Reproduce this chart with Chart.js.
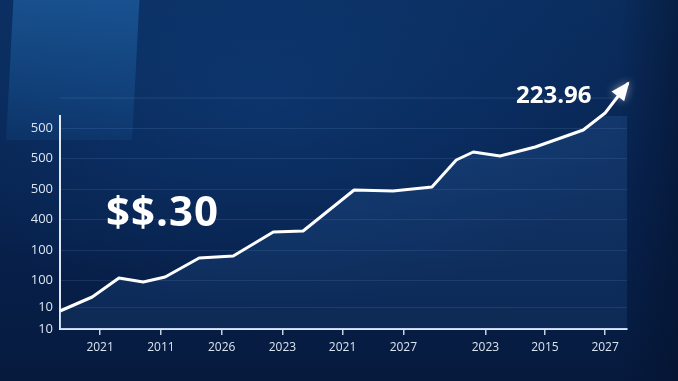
<!DOCTYPE html>
<html>
<head>
<meta charset="utf-8">
<script src="https://cdn.jsdelivr.net/npm/chart.js@4"></script>
<style>
  html, body { margin:0; padding:0; }
  body {
    width:678px; height:381px; overflow:hidden; position:relative;
    background:
      radial-gradient(ellipse 380px 220px at 260px 90px, rgba(18,70,135,0.45), rgba(18,70,135,0) 100%),
      linear-gradient(180deg, #0a2d5e 0%, #082452 45%, #061a3e 100%);
    font-family:"Open Sans", "Noto Sans", sans-serif;
  }
  .panel {
    position:absolute; left:10px; top:-10px; width:126px; height:150px;
    background:linear-gradient(180deg, rgba(35,110,180,0.55), rgba(25,90,160,0.18));
    transform:skewX(-3deg);
  }
  .shade {
    position:absolute; right:0; top:0; width:60px; height:381px;
    background:linear-gradient(90deg, rgba(4,16,40,0), rgba(4,16,40,0.5));
  }
  #wrap { position:absolute; left:0; top:0; width:678px; height:381px; }
  .big {
    position:absolute; left:106px; top:181px; color:#fff;
    font-weight:700; font-size:42px; letter-spacing:1px;
  }
  .val {
    position:absolute; left:516px; top:77px; color:#fff;
    font-weight:700; font-size:24px;
  }
</style>
</head>
<body>
<div class="panel"></div>
<div class="shade"></div>
<div id="wrap"><canvas id="chart" width="678" height="381"></canvas></div>
<div class="big">$$.30</div>
<div class="val">223.96</div>
<script>
/* ---------- data ---------- */
const X_VALUES = [0, 0.53, 0.97, 1.37, 1.73, 2.29, 2.85, 3.51, 4.0, 4.84, 5.48, 6.12, 6.52, 6.80, 7.24, 7.82, 8.61, 8.97, 9.35];
const Y_VALUES = [18, 32, 51, 47, 52, 71, 73, 97, 98, 139, 138, 142, 169, 177, 173, 182, 199, 216, 246];

const X_TICK_POS    = [0.66, 1.66, 2.66, 3.66, 4.65, 5.65, 7.0, 7.98, 8.97];
const X_TICK_LABELS = ["2021", "2011", "2026", "2023", "2021", "2027", "2023", "2015", "2027"];

const Y_TICK_POS    = [0, 22, 49, 79, 110, 140, 171, 201];
const Y_TICK_LABELS = ["10", "10", "100", "100", "400", "500", "500", "500"];

const Y_GUIDE = 231;   // faint guide line above the axis

/* ---------- plugins ---------- */
const arrowHead = {
  id: "arrowHead",
  beforeDatasetsDraw(chart) {
    const {ctx, chartArea, scales: {y}} = chart;
    const gy = y.getPixelForValue(Y_GUIDE);
    ctx.save();
    ctx.strokeStyle = "rgba(120,170,230,0.18)";
    ctx.lineWidth = 1;
    ctx.beginPath();
    ctx.moveTo(chartArea.left, gy);
    ctx.lineTo(chartArea.right - 4, gy);
    ctx.stroke();
    ctx.restore();
  },
  afterDatasetsDraw(chart) {
    const pts = chart.getDatasetMeta(0).data;
    const a = pts[pts.length - 2], b = pts[pts.length - 1];
    const ang = Math.atan2(b.y - a.y, b.x - a.x);
    const len = 17, half = 8;
    const ctx = chart.ctx;
    ctx.save();
    ctx.translate(b.x, b.y);
    ctx.rotate(ang);
    ctx.fillStyle = "#ffffff";
    ctx.shadowColor = "rgba(255,255,255,0.5)";
    ctx.shadowBlur = 8;
    ctx.beginPath();
    ctx.moveTo(2, 0);
    ctx.lineTo(-len, -half);
    ctx.lineTo(-len, half);
    ctx.closePath();
    ctx.fill();
    ctx.restore();
  }
};

/* ---------- chart ---------- */
const canvas = document.getElementById("chart");
const ctx = canvas.getContext("2d");
const grad = ctx.createLinearGradient(0, 80, 0, 330);
grad.addColorStop(0, "rgba(60,120,190,0.22)");
grad.addColorStop(1, "rgba(50,110,180,0.16)");

new Chart(canvas, {
  type: "line",
  data: {
    datasets: [{
      data: X_VALUES.map((x, i) => ({x, y: Y_VALUES[i]})),
      borderColor: "#ffffff",
      borderWidth: 3,
      borderJoinStyle: "round",
      pointRadius: 0,
      tension: 0,
      fill: "origin",
      backgroundColor: grad,
      clip: false
    }]
  },
  options: {
    responsive: false,
    animation: false,
    layout: { padding: { top: 116, right: 51, left: 0, bottom: 0 } },
    plugins: { legend: { display: false }, tooltip: { enabled: false } },
    scales: {
      x: {
        type: "linear", min: 0, max: 9.33,
        afterBuildTicks: s => { s.ticks = X_TICK_POS.map(v => ({value: v})); },
        afterFit: s => { s.height = 52; },
        ticks: {
          callback: (v, i) => X_TICK_LABELS[i],
          color: "#dbe4f0",
          font: { family: "'Open Sans', sans-serif", size: 12 },
          padding: 5,
          maxRotation: 0, autoSkip: false
        },
        grid: { drawOnChartArea: false, tickLength: 6, color: "rgba(230,240,255,0.85)", lineWidth: 1.5 },
        border: { color: "rgba(235,242,255,0.95)", width: 2 }
      },
      y: {
        type: "linear", min: 0, max: 213,
        afterBuildTicks: s => { s.ticks = Y_TICK_POS.map(v => ({value: v})); },
        afterFit: s => { s.width = 60; },
        ticks: {
          callback: (v, i) => Y_TICK_LABELS[i],
          color: "#dbe4f0",
          font: { family: "'Open Sans', sans-serif", size: 13 },
          padding: 7,
          autoSkip: false
        },
        grid: { drawTicks: false, color: "rgba(120,170,230,0.15)", lineWidth: 1 },
        border: { color: "rgba(235,242,255,0.95)", width: 2 }
      }
    }
  },
  plugins: [arrowHead]
});
</script>
</body>
</html>
